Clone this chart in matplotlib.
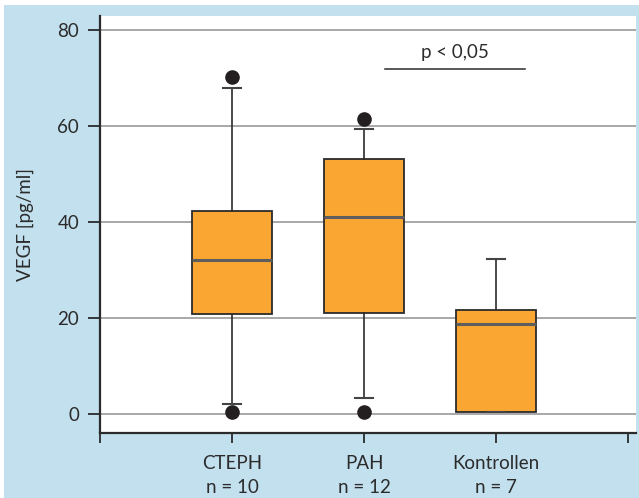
import matplotlib
matplotlib.use('Agg')
import matplotlib.pyplot as plt
from matplotlib.patches import Rectangle

plt.rcParams['font.family'] = ['Lato', 'DejaVu Sans']

# VEGF box plot values per group
groups = ['CTEPH', 'PAH', 'Kontrollen']
n_values = [10, 12, 7]
q1 = [20.8, 21.0, 0.4]
medians = [32.1, 41.0, 18.8]
q3 = [42.3, 53.1, 21.7]
whisker_lo = [2.0, 3.4, 0.4]
whisker_hi = [68.0, 59.5, 32.3]
outliers = [[70.2, 0.3], [61.6, 0.3], []]

# significance bracket between PAH and Kontrollen
sig_span = [2.16, 3.22]
sig_level = 72.0
sig_text = 'p < 0,05'

yticks = [0, 20, 40, 60, 80]

blue = '#c3e0ef'
orange = '#f9a633'
dark = '#2b2b2b'
fs = 13.5

fig = plt.figure(figsize=(6.39, 4.98), dpi=100)
fig.patch.set_facecolor('white')
fig.add_artist(Rectangle((4 / 639, 0), 1, 1 - 5 / 498,
                         transform=fig.transFigure, facecolor=blue,
                         edgecolor='none', zorder=-10))

ax = fig.add_axes([100 / 639, 1 - 433 / 498, 536 / 639, 417 / 498])
ax.set_facecolor('white')

stats = []
for i, g in enumerate(groups):
    stats.append(dict(label=g, med=medians[i], q1=q1[i], q3=q3[i],
                      whislo=whisker_lo[i], whishi=whisker_hi[i],
                      fliers=outliers[i]))

ax.bxp(stats, positions=[1, 2, 3], widths=0.6, capwidths=0.14,
       patch_artist=True, manage_ticks=False,
       boxprops=dict(facecolor=orange, edgecolor=dark, linewidth=1.3),
       medianprops=dict(color='#5e5e5e', linewidth=2.2),
       whiskerprops=dict(color=dark, linewidth=1.2),
       capprops=dict(color='#444444', linewidth=1.5),
       flierprops=dict(marker='o', markerfacecolor='#231f20',
                       markeredgecolor='#231f20', markersize=9.5))

for y in yticks:
    ax.axhline(y, color='#9a9a9a', linewidth=1.2, zorder=0)

ax.plot(sig_span, [sig_level, sig_level], color=dark, linewidth=1.1)
ax.text(sum(sig_span) / 2, sig_level + 1.6, sig_text, ha='center',
        va='bottom', fontsize=fs, color=dark)

ax.set_xlim(0, 4.06)
ax.set_ylim(-4, 83)
ax.set_yticks(yticks)
ax.set_xticks([0, 1, 2, 3, 4])
ax.set_xticklabels([''] + [f'{g}\nn = {n}' for g, n in zip(groups, n_values)] + [''])
ax.set_ylabel('VEGF [pg/ml]', fontsize=fs, color=dark, labelpad=17)

for side in ['top', 'right']:
    ax.spines[side].set_visible(False)
for side in ['left', 'bottom']:
    ax.spines[side].set_color(dark)
    ax.spines[side].set_linewidth(1.6)

ax.tick_params(axis='y', direction='out', length=9, width=1.3, color=dark,
               labelsize=fs, labelcolor=dark, pad=6)
ax.tick_params(axis='x', direction='out', length=7, width=1.3, color=dark,
               labelsize=fs, labelcolor=dark, pad=9)
for lbl in ax.get_xticklabels():
    lbl.set_linespacing(1.45)

fig.savefig('out.png', dpi=100, facecolor=fig.get_facecolor())
plt.close(fig)
